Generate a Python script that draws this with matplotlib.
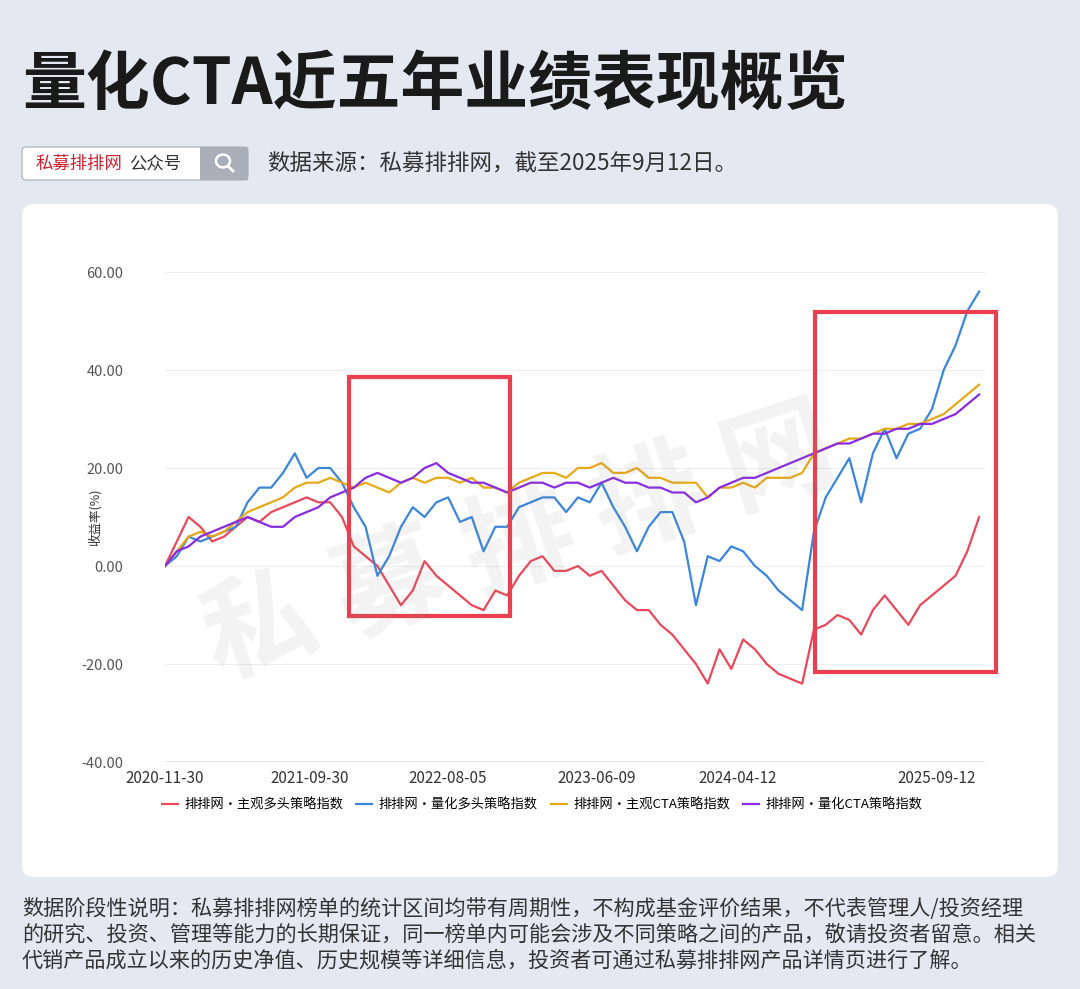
import matplotlib
matplotlib.use("Agg")
import matplotlib.pyplot as plt
from matplotlib.patches import FancyBboxPatch, Rectangle, Circle
from matplotlib.lines import Line2D
import numpy as np

plt.rcParams['font.family'] = ['Noto Sans CJK SC', 'DejaVu Sans']

xtick_labels = ["2020-11-30", "2021-09-30", "2022-08-05", "2023-06-09", "2024-04-12", "2025-09-12"]
xtick_pos = [0, 12.3, 24.0, 36.6, 48.5, 65.4]
yticks = [-40, -20, 0, 20, 40, 60]

names = ["排排网·主观多头策略指数", "排排网·量化多头策略指数", "排排网·主观CTA策略指数", "排排网·量化CTA策略指数"]
colors = ["#e8495b", "#3b86db", "#e8a917", "#8a2be2"]

red = [0,5,10,8,5,6,8,10,9,11,12,13,14,13,13,10,4,2,0,-4,-8,-5,1,-2,-4,-6,-8,-9,-5,-6,
       -2,1,2,-1,-1,0,-2,-1,-4,-7,-9,-9,-12,-14,-17,-20,-24,-17,-21,-15,-17,-20,-22,-23,-24,
       -13,-12,-10,-11,-14,-9,-6,-9,-12,-8,-6,-4,-2,3,10]
blue = [0,2,6,5,6,7,8,13,16,16,19,23,18,20,20,17,12,8,-2,2,8,12,10,13,14,9,10,3,8,8,
        12,13,14,14,11,14,13,17,12,8,3,8,11,11,5,-8,2,1,4,3,0,-2,-5,-7,-9,
        7,14,18,22,13,23,28,22,27,28,32,40,45,52,56]
orange = [0,3,6,7,6,7,9,11,12,13,14,16,17,17,18,17,16,17,16,15,17,18,17,18,18,17,18,16,16,15,
          17,18,19,19,18,20,20,21,19,19,20,18,18,17,17,17,14,16,16,17,16,18,18,18,19,
          23,24,25,26,26,27,28,28,29,29,30,31,33,35,37]
purple = [0,3,4,6,7,8,9,10,9,8,8,10,11,12,14,15,16,18,19,18,17,18,20,21,19,18,17,17,16,15,
          16,17,17,16,17,17,16,17,18,17,17,16,16,15,15,13,14,16,17,18,18,19,20,21,22,
          23,24,25,25,26,27,27,28,28,29,29,30,31,33,35]

W, H = 1080, 989
fig = plt.figure(figsize=(W/100, H/100), dpi=100)
fig.patch.set_facecolor("#e3e8f1")

def fx(px): return px / W
def fy(py): return 1 - py / H

fig.patches.append(FancyBboxPatch((fx(22), fy(877)), fx(1058) - fx(22), fy(204) - fy(877),
                                  boxstyle="round,pad=0,rounding_size=0.012", transform=fig.transFigure,
                                  facecolor="white", edgecolor="none", zorder=0))
fig.text(fx(22), fy(85), "量化CTA近五年业绩表现概览", fontsize=46, fontweight="bold", color="#1a1a1a", va="center")
fig.patches.append(FancyBboxPatch((fx(22), fy(180)), fx(248) - fx(22), fy(147) - fy(180),
                                  boxstyle="round,pad=0,rounding_size=0.004", transform=fig.transFigure,
                                  facecolor="white", edgecolor="#b5bac4", lw=1, zorder=1))
fig.patches.append(Rectangle((fx(200), fy(180)), fx(248) - fx(200), fy(147) - fy(180),
                             transform=fig.transFigure, facecolor="#a9afb9", edgecolor="none", zorder=2))
fig.patches.append(Circle((fx(223), fy(161)), 0.0065, transform=fig.transFigure, fill=False,
                          edgecolor="white", lw=1.8, zorder=3))
fig.lines.append(Line2D([fx(228), fx(233)], [fy(166), fy(171)], transform=fig.transFigure,
                        color="white", lw=2, zorder=3))
fig.text(fx(36), fy(164), "私募排排网", fontsize=12.5, color="#d0202e", va="center")
fig.text(fx(129), fy(164), "公众号", fontsize=12.5, color="#333333", va="center")
fig.text(fx(267), fy(164), "数据来源：私募排排网，截至2025年9月12日。", fontsize=16.2, color="#333333", va="center")

foot = ["数据阶段性说明：私募排排网榜单的统计区间均带有周期性，不构成基金评价结果，不代表管理人/投资经理",
        "的研究、投资、管理等能力的长期保证，同一榜单内可能会涉及不同策略之间的产品，敬请投资者留意。相关",
        "代销产品成立以来的历史净值、历史规模等详细信息，投资者可通过私募排排网产品详情页进行了解。"]
for i, t in enumerate(foot):
    fig.text(fx(22), fy(909 + i * 26), t, fontsize=15.2, color="#333333", va="center")

ax = fig.add_axes([fx(165), fy(762), fx(985) - fx(165), fy(272) - fy(762)])
ax.set_zorder(5)
ax.set_facecolor("none")
x = np.arange(len(red))
for s, c, n in zip([red, blue, orange, purple], colors, names):
    ax.plot(x, s, color=c, lw=1.6, label=n)
ax.set_xlim(0, 69.5)
ax.set_ylim(-40, 60)
ax.set_yticks(yticks)
ax.set_yticklabels([f"{v:.2f}" for v in yticks], fontsize=10.5, color="#555555")
ax.set_xticks(xtick_pos)
ax.set_xticklabels(xtick_labels, fontsize=11, color="#333333")
ax.tick_params(length=0, pad=6)
ax.tick_params(axis="y", pad=30)
for sp in ax.spines.values():
    sp.set_visible(False)
ax.axhline(-40, color="#888888", lw=1)
ax.grid(axis="y", color="#eeeeee", lw=0.8)
ax.set_ylabel("收益率(%)", fontsize=9, color="#333333", labelpad=-15)

ax.add_patch(Rectangle((15.6, -10.2), 13.6, 48.8, fill=False, edgecolor="#e8404f", lw=3, clip_on=False, zorder=5))
ax.add_patch(Rectangle((55.1, -21.6), 15.3, 73.4, fill=False, edgecolor="#e8404f", lw=3, clip_on=False, zorder=5))

fig.text(fx(520), fy(545), "私 募 排 排 网", fontsize=80, fontweight="bold", color="#888888", alpha=0.10,
         rotation=18, ha="center", va="center", zorder=10)

ax.legend(loc="upper center", bbox_to_anchor=(0.46, -0.05), ncol=4, frameon=False,
          fontsize=9.5, handlelength=1.2, columnspacing=1.0, handletextpad=0.5)

fig.savefig("out.png", dpi=100, facecolor=fig.get_facecolor())
